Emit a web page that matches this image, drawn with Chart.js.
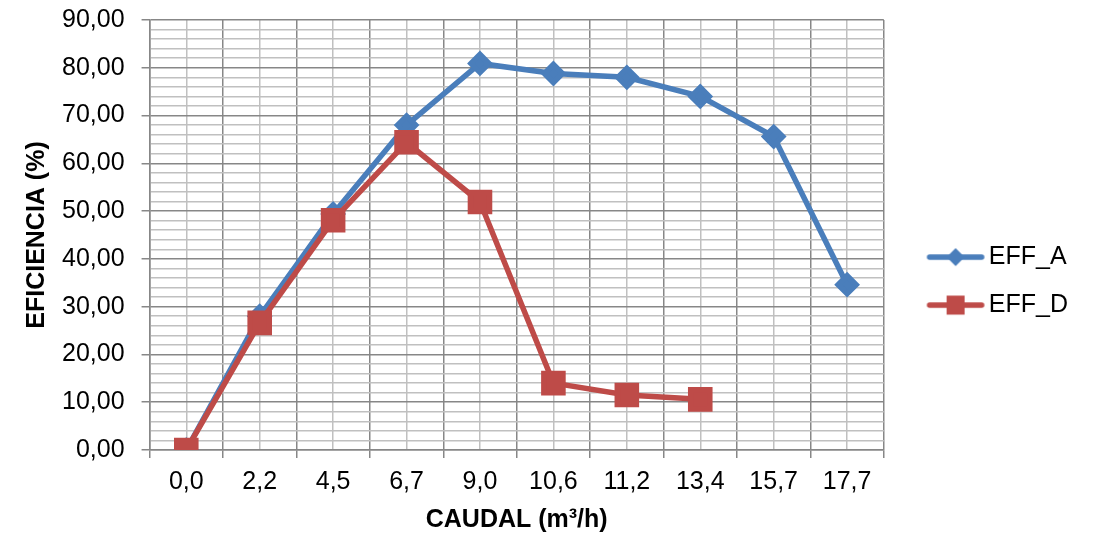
<!DOCTYPE html>
<html>
<head>
<meta charset="utf-8">
<script src="https://cdn.jsdelivr.net/npm/chart.js@4.4.1/dist/chart.umd.min.js"></script>
<style>
  html, body { margin: 0; padding: 0; background: #fff; }
  #wrap { width: 1094px; height: 536px; }
</style>
</head>
<body>
<div id="wrap"><canvas id="eff"></canvas></div>
<script>
const caudal = ['0,0', '2,2', '4,5', '6,7', '9,0', '10,6', '11,2', '13,4', '15,7', '17,7'];
const effA = [0, 28.0, 49.4, 68.0, 80.9, 78.8, 78.0, 74.0, 65.6, 34.6];
const effD = [0, 26.6, 48.1, 64.4, 51.9, 14.0, 11.5, 10.6, null, null];

const BLUE = '#4A7EBB';
const RED = '#BE4B48';
const MAJOR = '#878787';
const MINOR = '#C0C0C0';

Chart.defaults.font.family = '"Liberation Sans", Arial, sans-serif';
Chart.defaults.font.size = 25;
Chart.defaults.color = '#000';

// line + marker picture for the legend (visible part sits right of centre)
function legendIcon(color, shape) {
  const c = document.createElement('canvas');
  c.width = 100; c.height = 22;
  const g = c.getContext('2d');
  const x0 = 36, x1 = 92, mid = (x0 + x1) / 2;
  g.strokeStyle = color; g.lineWidth = 5.5; g.lineCap = 'round';
  g.beginPath(); g.moveTo(x0 + 2, 11); g.lineTo(x1 - 2, 11); g.stroke();
  g.fillStyle = color;
  if (shape === 'diamond') {
    g.beginPath(); g.moveTo(mid, 2); g.lineTo(mid + 9, 11); g.lineTo(mid, 20); g.lineTo(mid - 9, 11); g.closePath(); g.fill();
  } else {
    g.fillRect(mid - 9, 1.5, 18, 19);
  }
  return c;
}

const pts = arr => arr.map((v, i) => ({ x: i, y: v }));

new Chart(document.getElementById('eff'), {
  type: 'line',
  data: {
    datasets: [{
      label: 'EFF_A',
      data: pts(effA),
      order: 1,
      borderColor: BLUE,
      backgroundColor: BLUE,
      borderWidth: 5.5,
      pointStyle: 'rectRot',
      pointRadius: 9,
      pointHoverRadius: 9,
      tension: 0,
      icon: legendIcon(BLUE, 'diamond')
    }, {
      label: 'EFF_D',
      data: pts(effD),
      order: 0,
      borderColor: RED,
      backgroundColor: RED,
      borderWidth: 5.5,
      pointStyle: 'rect',
      pointRadius: 13.5,
      pointHoverRadius: 13.5,
      tension: 0,
      icon: legendIcon(RED, 'square')
    }]
  },
  options: {
    responsive: true,
    maintainAspectRatio: false,
    animation: false,
    layout: { padding: { left: 22, right: 16, top: 20, bottom: 1 } },
    plugins: {
      tooltip: { enabled: false },
      legend: {
        position: 'right',
        title: { display: true, text: ' ', font: { size: 1 }, padding: 3 },
        labels: {
          usePointStyle: true,
          pointStyleWidth: 69.5,
          padding: 23,
          font: { size: 25 },
          generateLabels: chart => chart.data.datasets.map((ds, i) => ({
            text: ds.label,
            pointStyle: ds.icon,
            fillStyle: ds.borderColor,
            strokeStyle: ds.borderColor,
            lineWidth: 0,
            datasetIndex: i,
            hidden: false
          }))
        }
      }
    },
    scales: {
      x: {
        type: 'linear',
        min: -0.5,
        max: 9.5,
        border: { color: MAJOR, width: 1.5 },
        grid: {
          color: c => Number.isInteger(c.tick.value) ? MINOR : MAJOR,
          tickColor: c => Number.isInteger(c.tick.value) ? 'rgba(0,0,0,0)' : MAJOR,
          lineWidth: 1.5,
          tickLength: 8
        },
        ticks: {
          stepSize: 0.5,
          autoSkip: false,
          maxRotation: 0,
          padding: 9,
          callback: v => Number.isInteger(v) ? caudal[v] : ''
        },
        afterFit: s => { s.height -= 9; },
        title: {
          display: true,
          text: 'CAUDAL (m³/h)',
          font: { weight: 'bold', size: 25 },
          padding: { top: 8, bottom: 0 }
        }
      },
      y: {
        min: 0,
        max: 90,
        border: { color: MAJOR, width: 1.5 },
        grid: {
          color: c => Math.round(c.tick.value) % 10 === 0 ? MAJOR : MINOR,
          tickColor: c => Math.round(c.tick.value) % 10 === 0 ? MAJOR : 'rgba(0,0,0,0)',
          lineWidth: 1.5,
          tickLength: 8
        },
        ticks: {
          stepSize: 2,
          autoSkip: false,
          padding: 17,
          callback: v => Math.round(v) % 10 === 0 ? v.toFixed(2).replace('.', ',') : ''
        },
        afterFit: s => { s.width -= 17; s.paddingTop = 0; s.paddingBottom = 0; },
        title: {
          display: true,
          text: 'EFICIENCIA (%)',
          font: { weight: 'bold', size: 25 },
          padding: { top: 0, bottom: 10 }
        }
      }
    }
  }
});
</script>
</body>
</html>
